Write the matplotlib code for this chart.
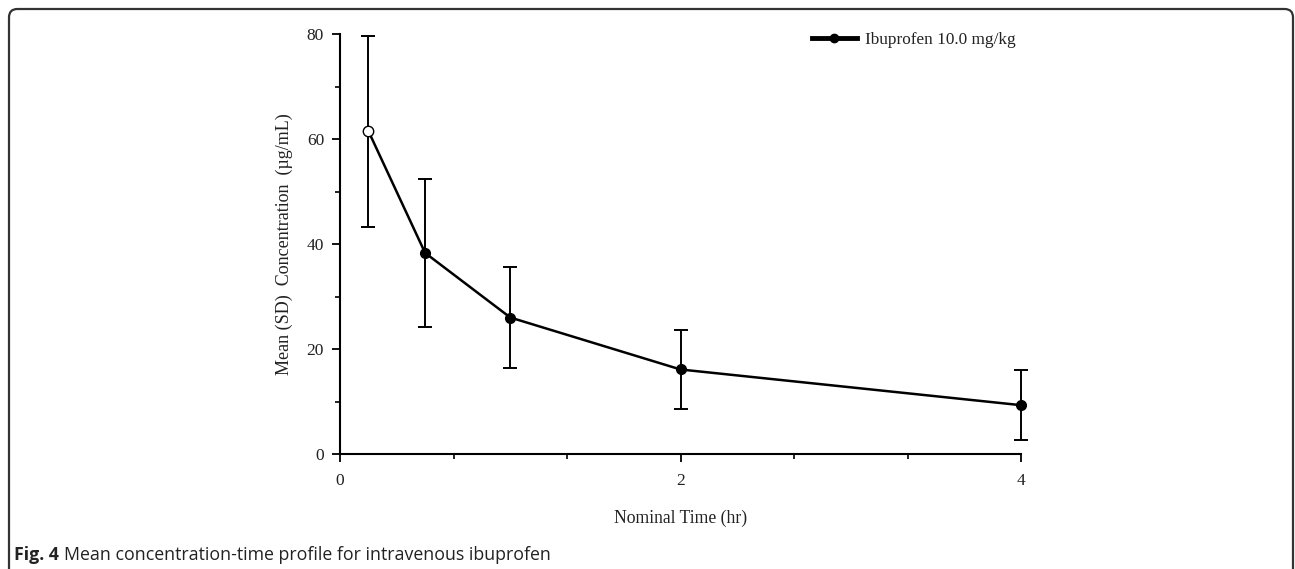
import matplotlib
matplotlib.use("Agg")
import matplotlib.pyplot as plt
from matplotlib.patches import FancyBboxPatch
from matplotlib.ticker import MultipleLocator, FixedLocator
from matplotlib.lines import Line2D

# Data
time_hr = [0.167, 0.5, 1.0, 2.0, 4.0]
mean_conc = [61.5, 38.3, 26.0, 16.1, 9.3]
sd_conc = [18.2, 14.1, 9.7, 7.5, 6.7]
filled = [False, True, True, True, True]
series_label = "Ibuprofen 10.0 mg/kg"
x_ticks = [0, 2, 4]
x_minor = [2/3, 4/3, 8/3, 10/3]
y_ticks = [0, 20, 40, 60, 80]

W, H = 1295, 569
fig = plt.figure(figsize=(W/100, H/100), dpi=100)
serif = ["Liberation Serif", "DejaVu Serif"]
tc = "#222222"

# frame
frame = FancyBboxPatch((9/W, -0.05), (1293-9)/W, 1 - 9/H + 0.05,
                       boxstyle="round,pad=0,rounding_size=0.0065",
                       transform=fig.transFigure, fill=False,
                       edgecolor="#333333", linewidth=1.6,
                       mutation_aspect=W/H)
fig.patches.append(frame)

ax = fig.add_axes([340/W, 1-454/H, (1021-340)/W, (454-34)/H])
ax.set_xlim(0, 4)
ax.set_ylim(0, 80)
for s in ["top", "right"]:
    ax.spines[s].set_visible(False)
for s in ["left", "bottom"]:
    ax.spines[s].set_linewidth(1.5)
    ax.spines[s].set_color("black")

ax.xaxis.set_major_locator(FixedLocator(x_ticks))
ax.xaxis.set_minor_locator(FixedLocator(x_minor))
ax.yaxis.set_major_locator(FixedLocator(y_ticks))
ax.yaxis.set_minor_locator(MultipleLocator(10))
ax.tick_params(which="major", direction="out", length=5.5, width=1.3, color="black")
ax.tick_params(which="minor", direction="out", length=3.5, width=1.2, color="black")
ax.tick_params(axis="x", which="major", pad=8)
ax.tick_params(axis="y", which="major", pad=6)
for lab in ax.get_xticklabels() + ax.get_yticklabels():
    lab.set_fontfamily(serif)
    lab.set_fontsize(12.5)
    lab.set_color(tc)

ax.errorbar(time_hr, mean_conc, yerr=sd_conc, fmt="none", ecolor="black",
            elinewidth=1.4, capsize=5, capthick=1.4, zorder=2, clip_on=False)
ax.plot(time_hr, mean_conc, color="black", linewidth=1.8, zorder=3, clip_on=False)
for t, m, f in zip(time_hr, mean_conc, filled):
    ax.plot([t], [m], marker="o", markersize=7 if f else 7.5,
            markerfacecolor="black" if f else "white",
            markeredgecolor="black", markeredgewidth=1.0, zorder=4, clip_on=False)

ax.set_xlabel("Nominal Time (hr)", fontfamily=serif, fontsize=12.7, color=tc, labelpad=15)
ax.set_ylabel("Mean (SD)  Concentration  (\u00b5g/mL)", fontfamily=serif, fontsize=13,
              color=tc, labelpad=10)

handle = Line2D([], [], color="black", linewidth=3.5, marker="o", markersize=6,
                markerfacecolor="black")
leg = fig.legend([handle], [series_label], loc="center left",
                 bbox_to_anchor=(812/W, 1-40/H), frameon=False, borderpad=0,
                 borderaxespad=0, handlelength=2.6, handletextpad=0.5,
                 prop={"family": serif, "size": 12.4})
for t in leg.get_texts():
    t.set_color(tc)

t1 = fig.text(14/W, 1-555/H, "Fig. 4", fontfamily="Open Sans", fontweight="bold",
              fontsize=12.8, va="center", ha="left", color="#222222")
fig.canvas.draw()
bb = t1.get_window_extent(fig.canvas.get_renderer())
fig.text((bb.x1 + 5)/W, 1-555/H, "Mean concentration-time profile for intravenous ibuprofen",
         fontfamily="Open Sans", fontsize=12.8, va="center", ha="left", color="#222222")

fig.savefig("out.png", dpi=100)
